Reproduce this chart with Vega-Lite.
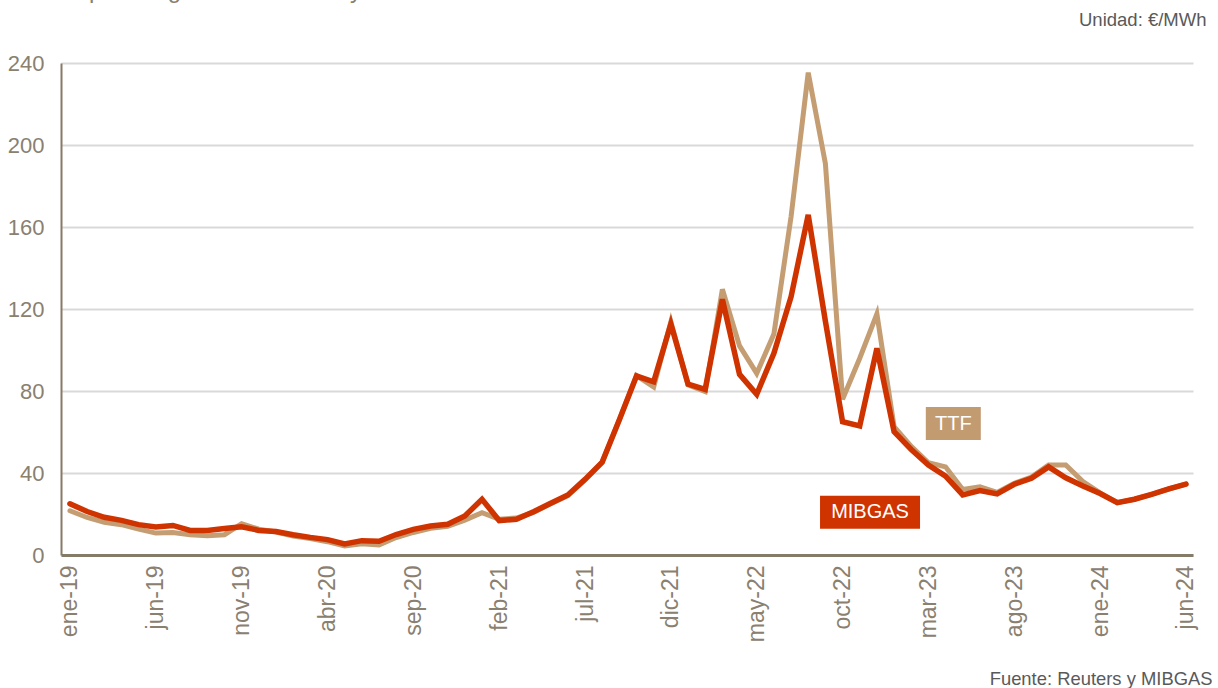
{
  "$schema": "https://vega.github.io/schema/vega-lite/v6.json",
  "width": 1132,
  "height": 492,
  "autosize": {"type": "none"},
  "padding": {"left": 61, "top": 63, "right": 25, "bottom": 133},
  "background": "white",
  "config": {"view": {"stroke": null}, "font": "Liberation Sans"},
  "title": {
    "text": "Precio spot del gas natural: TTF y MIBGAS",
    "anchor": "start",
    "frame": "bounds",
    "font": "Liberation Sans",
    "fontSize": 24,
    "fontWeight": "normal",
    "color": "#8A8070",
    "baseline": "alphabetic",
    "offset": -12,
    "dx": -5
  },
  "data": {
    "values": [
      {"i": 0, "mes": "ene-19", "MIBGAS": 25.0, "TTF": 21.6},
      {"i": 1, "mes": "feb-19", "MIBGAS": 21.2, "TTF": 18.3},
      {"i": 2, "mes": "mar-19", "MIBGAS": 18.4, "TTF": 16.0},
      {"i": 3, "mes": "abr-19", "MIBGAS": 16.9, "TTF": 14.8},
      {"i": 4, "mes": "may-19", "MIBGAS": 14.8, "TTF": 12.6},
      {"i": 5, "mes": "jun-19", "MIBGAS": 13.7, "TTF": 10.7},
      {"i": 6, "mes": "jul-19", "MIBGAS": 14.4, "TTF": 11.0},
      {"i": 7, "mes": "ago-19", "MIBGAS": 12.0, "TTF": 9.9},
      {"i": 8, "mes": "sep-19", "MIBGAS": 12.0, "TTF": 9.4},
      {"i": 9, "mes": "oct-19", "MIBGAS": 12.9, "TTF": 9.9},
      {"i": 10, "mes": "nov-19", "MIBGAS": 13.8, "TTF": 15.3},
      {"i": 11, "mes": "dic-19", "MIBGAS": 12.0, "TTF": 12.6},
      {"i": 12, "mes": "ene-20", "MIBGAS": 11.5, "TTF": 11.2},
      {"i": 13, "mes": "feb-20", "MIBGAS": 9.9, "TTF": 9.3},
      {"i": 14, "mes": "mar-20", "MIBGAS": 8.6, "TTF": 8.0},
      {"i": 15, "mes": "abr-20", "MIBGAS": 7.5, "TTF": 6.5},
      {"i": 16, "mes": "may-20", "MIBGAS": 5.4, "TTF": 4.4},
      {"i": 17, "mes": "jun-20", "MIBGAS": 7.0, "TTF": 5.5},
      {"i": 18, "mes": "jul-20", "MIBGAS": 6.7, "TTF": 4.9},
      {"i": 19, "mes": "ago-20", "MIBGAS": 10.0, "TTF": 8.5},
      {"i": 20, "mes": "sep-20", "MIBGAS": 12.5, "TTF": 11.0},
      {"i": 21, "mes": "oct-20", "MIBGAS": 14.1, "TTF": 13.0},
      {"i": 22, "mes": "nov-20", "MIBGAS": 15.0, "TTF": 14.0},
      {"i": 23, "mes": "dic-20", "MIBGAS": 19.0, "TTF": 17.0},
      {"i": 24, "mes": "ene-21", "MIBGAS": 27.2, "TTF": 20.6},
      {"i": 25, "mes": "feb-21", "MIBGAS": 16.8, "TTF": 17.5},
      {"i": 26, "mes": "mar-21", "MIBGAS": 17.4, "TTF": 18.0},
      {"i": 27, "mes": "abr-21", "MIBGAS": 21.1, "TTF": 20.8},
      {"i": 28, "mes": "may-21", "MIBGAS": 25.2, "TTF": 25.0},
      {"i": 29, "mes": "jun-21", "MIBGAS": 29.3, "TTF": 29.0},
      {"i": 30, "mes": "jul-21", "MIBGAS": 36.9, "TTF": 36.6},
      {"i": 31, "mes": "ago-21", "MIBGAS": 45.3, "TTF": 45.3},
      {"i": 32, "mes": "sep-21", "MIBGAS": 66.0, "TTF": 66.0},
      {"i": 33, "mes": "oct-21", "MIBGAS": 87.3, "TTF": 87.5},
      {"i": 34, "mes": "nov-21", "MIBGAS": 84.5, "TTF": 82.0},
      {"i": 35, "mes": "dic-21", "MIBGAS": 112.7, "TTF": 113.8},
      {"i": 36, "mes": "ene-22", "MIBGAS": 83.4, "TTF": 83.0},
      {"i": 37, "mes": "feb-22", "MIBGAS": 80.8, "TTF": 79.7},
      {"i": 38, "mes": "mar-22", "MIBGAS": 124.7, "TTF": 129.6},
      {"i": 39, "mes": "abr-22", "MIBGAS": 88.1, "TTF": 102.0},
      {"i": 40, "mes": "may-22", "MIBGAS": 78.4, "TTF": 88.6},
      {"i": 41, "mes": "jun-22", "MIBGAS": 98.4, "TTF": 107.8},
      {"i": 42, "mes": "jul-22", "MIBGAS": 126.0, "TTF": 165.0},
      {"i": 43, "mes": "ago-22", "MIBGAS": 165.9, "TTF": 235.3},
      {"i": 44, "mes": "sep-22", "MIBGAS": 114.0, "TTF": 191.0},
      {"i": 45, "mes": "oct-22", "MIBGAS": 65.0, "TTF": 76.0},
      {"i": 46, "mes": "nov-22", "MIBGAS": 63.0, "TTF": 96.0},
      {"i": 47, "mes": "dic-22", "MIBGAS": 100.8, "TTF": 117.6},
      {"i": 48, "mes": "ene-23", "MIBGAS": 60.2, "TTF": 62.6},
      {"i": 49, "mes": "feb-23", "MIBGAS": 51.5, "TTF": 53.0},
      {"i": 50, "mes": "mar-23", "MIBGAS": 43.9, "TTF": 45.0},
      {"i": 51, "mes": "abr-23", "MIBGAS": 38.5, "TTF": 43.0},
      {"i": 52, "mes": "may-23", "MIBGAS": 29.3, "TTF": 32.0},
      {"i": 53, "mes": "jun-23", "MIBGAS": 31.4, "TTF": 33.3},
      {"i": 54, "mes": "jul-23", "MIBGAS": 29.8, "TTF": 30.5},
      {"i": 55, "mes": "ago-23", "MIBGAS": 34.5, "TTF": 35.0},
      {"i": 56, "mes": "sep-23", "MIBGAS": 37.4, "TTF": 38.0},
      {"i": 57, "mes": "oct-23", "MIBGAS": 43.0, "TTF": 43.9},
      {"i": 58, "mes": "nov-23", "MIBGAS": 37.7, "TTF": 43.9},
      {"i": 59, "mes": "dic-23", "MIBGAS": 33.7, "TTF": 35.8},
      {"i": 60, "mes": "ene-24", "MIBGAS": 30.0, "TTF": 30.3},
      {"i": 61, "mes": "feb-24", "MIBGAS": 25.5, "TTF": 25.5},
      {"i": 62, "mes": "mar-24", "MIBGAS": 27.2, "TTF": 27.2},
      {"i": 63, "mes": "abr-24", "MIBGAS": 29.6, "TTF": 29.6},
      {"i": 64, "mes": "may-24", "MIBGAS": 32.2, "TTF": 32.2},
      {"i": 65, "mes": "jun-24", "MIBGAS": 34.6, "TTF": 34.6}
    ]
  },
  "layer": [
    {
      "mark": {"type": "line", "color": "#C49D73", "strokeWidth": 5, "strokeCap": "round"},
      "encoding": {
        "x": {
          "field": "i",
          "type": "quantitative",
          "scale": {"domain": [-0.52, 65.41], "nice": false, "zero": false},
          "axis": {
            "values": [0, 5, 10, 15, 20, 25, 30, 35, 40, 45, 50, 55, 60, 65],
            "labelExpr": "['ene-19','jun-19','nov-19','abr-20','sep-20','feb-21','jul-21','dic-21','may-22','oct-22','mar-23','ago-23','ene-24','jun-24'][round(datum.value/5)]",
            "labelAngle": -90,
            "labelFont": "Liberation Sans",
            "labelFontSize": 23,
            "labelColor": "#8A8070",
            "labelPadding": 10,
            "labelFlush": false,
            "labelOverlap": false,
            "ticks": false,
            "grid": false,
            "domainColor": "#857B69",
            "domainWidth": 3,
            "title": "Fuente: Reuters y MIBGAS",
            "titleFont": "Liberation Sans",
            "titleFontSize": 18.4,
            "titleFontWeight": "normal",
            "titleColor": "#595959",
            "titleAlign": "right",
            "titleAnchor": null,
            "titleBaseline": "alphabetic",
            "titleX": 1151,
            "titleY": 129
          }
        },
        "y": {
          "field": "TTF",
          "type": "quantitative",
          "scale": {"domain": [0, 240], "nice": false},
          "axis": {
            "values": [0, 40, 80, 120, 160, 200, 240],
            "labelFont": "Liberation Sans",
            "labelFontSize": 22,
            "labelColor": "#8A8070",
            "labelPadding": 17,
            "ticks": false,
            "grid": true,
            "gridColor": "#D9D9D9",
            "gridWidth": 2,
            "domainColor": "#857B69",
            "domainWidth": 2,
            "title": "Unidad: €/MWh",
            "titleFont": "Liberation Sans",
            "titleFontSize": 18.5,
            "titleFontWeight": "normal",
            "titleColor": "#595959",
            "titleAngle": 0,
            "titleAlign": "right",
            "titleAnchor": null,
            "titleBaseline": "alphabetic",
            "titleX": 1145,
            "titleY": -38
          }
        }
      }
    },
    {
      "mark": {"type": "line", "color": "#CF3300", "strokeWidth": 5.5, "strokeCap": "round"},
      "encoding": {
        "x": {"field": "i", "type": "quantitative"},
        "y": {"field": "MIBGAS", "type": "quantitative"}
      }
    },
    {
      "data": {"values": [
        {"serie": "TTF", "i": 51.45, "valor": 64.1},
        {"serie": "MIBGAS", "i": 46.6, "valor": 20.8}
      ]},
      "layer": [
        {
          "transform": [{"filter": "datum.serie == 'TTF'"}],
          "mark": {"type": "rect", "width": 55, "height": 33, "color": "#C39B71"},
          "encoding": {
            "x": {"field": "i", "type": "quantitative"},
            "y": {"field": "valor", "type": "quantitative"}
          }
        },
        {
          "transform": [{"filter": "datum.serie == 'MIBGAS'"}],
          "mark": {"type": "rect", "width": 100, "height": 33, "color": "#CF3300"},
          "encoding": {
            "x": {"field": "i", "type": "quantitative"},
            "y": {"field": "valor", "type": "quantitative"}
          }
        },
        {
          "mark": {"type": "text", "color": "white", "font": "Liberation Sans", "fontSize": 20, "align": "center", "baseline": "middle"},
          "encoding": {
            "x": {"field": "i", "type": "quantitative"},
            "y": {"field": "valor", "type": "quantitative"},
            "text": {"field": "serie"}
          }
        }
      ]
    }
  ]
}
